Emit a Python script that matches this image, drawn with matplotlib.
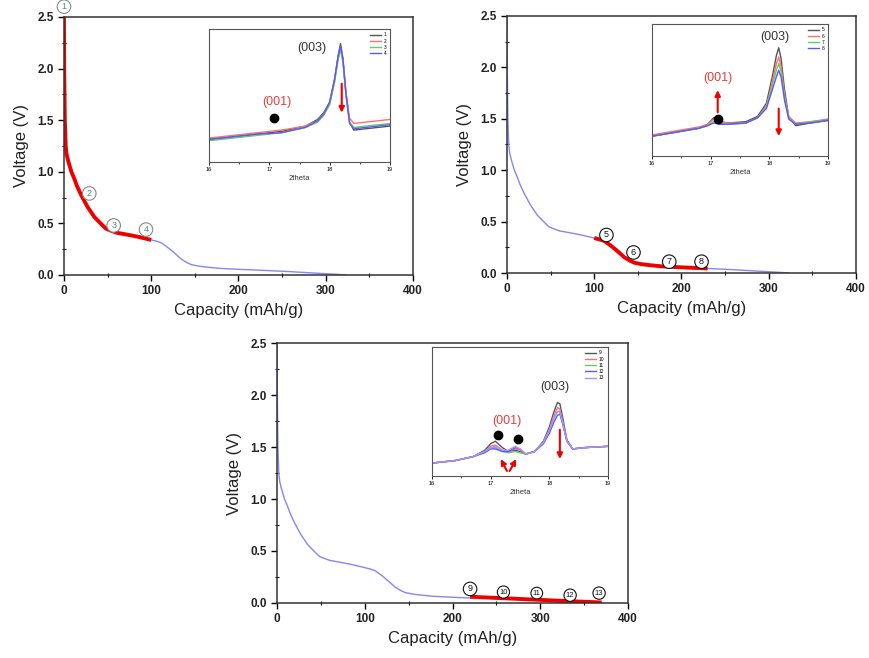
import matplotlib
matplotlib.use('Agg')
from matplotlib import pyplot as plt
from matplotlib.ticker import MultipleLocator
import numpy as np

plt.rcParams['font.family'] = ['Liberation Sans', 'DejaVu Sans']

# discharge curve (capacity in mAh/g, voltage in V)
cap = [0, 0.3, 1, 2, 3, 5, 8.5, 12, 15, 20, 27, 35, 42, 48, 52, 60, 73, 85, 100,
       107, 112, 120, 127, 135, 141, 146, 155, 165, 177, 200, 220, 230, 260, 292, 310, 323]
volt = [2.5, 2.0, 1.5, 1.25, 1.17, 1.1, 1.0, 0.93, 0.86, 0.77, 0.66, 0.56, 0.5, 0.45, 0.435,
        0.41, 0.39, 0.37, 0.34, 0.325, 0.31, 0.26, 0.21, 0.15, 0.12, 0.10, 0.085, 0.075,
        0.065, 0.055, 0.048, 0.044, 0.032, 0.016, 0.008, 0.0]

# red segment of the last panel
cap_red3 = [220, 260, 300, 340, 370]
volt_red3 = [0.06, 0.045, 0.03, 0.015, 0.005]

# circled labels: (label, capacity, voltage)
marks1 = [('1', 0, 2.6), ('2', 29, 0.79), ('3', 57, 0.48), ('4', 94, 0.44)]
marks2 = [('5', 114, 0.37), ('6', 145, 0.2), ('7', 186, 0.11), ('8', 223, 0.11)]
marks3 = [('9', 220, 0.135), ('10', 258, 0.105), ('11', 296, 0.095), ('12', 334, 0.075), ('13', 367, 0.095)]

# XRD insets (2theta, intensity a.u.)
tt1 = [16.0, 16.4, 16.8, 17.2, 17.6, 17.8, 17.9, 18.0, 18.08, 18.14, 18.18, 18.22, 18.27, 18.33, 18.4, 18.6, 18.8, 19.0]
xrd1 = {
    '1': [0.17, 0.19, 0.21, 0.23, 0.27, 0.32, 0.37, 0.45, 0.62, 0.80, 0.89, 0.78, 0.52, 0.30, 0.24, 0.25, 0.26, 0.27],
    '2': [0.18, 0.20, 0.22, 0.24, 0.27, 0.31, 0.36, 0.44, 0.60, 0.78, 0.86, 0.76, 0.52, 0.33, 0.29, 0.30, 0.31, 0.32],
    '3': [0.16, 0.18, 0.20, 0.22, 0.26, 0.30, 0.35, 0.43, 0.60, 0.77, 0.85, 0.75, 0.50, 0.30, 0.26, 0.27, 0.28, 0.29],
    '4': [0.17, 0.19, 0.21, 0.22, 0.26, 0.31, 0.36, 0.45, 0.62, 0.79, 0.87, 0.77, 0.51, 0.29, 0.25, 0.26, 0.27, 0.28],
}
tt2 = [16.0, 16.4, 16.8, 16.95, 17.05, 17.15, 17.3, 17.6, 17.8, 17.95, 18.05, 18.12, 18.16, 18.2, 18.26, 18.33, 18.45, 18.7, 19.0]
xrd2 = {
    '5': [0.15, 0.18, 0.21, 0.24, 0.29, 0.26, 0.25, 0.26, 0.30, 0.40, 0.60, 0.76, 0.82, 0.74, 0.50, 0.30, 0.23, 0.25, 0.27],
    '6': [0.16, 0.19, 0.22, 0.24, 0.28, 0.26, 0.25, 0.25, 0.29, 0.38, 0.56, 0.70, 0.75, 0.68, 0.46, 0.30, 0.25, 0.26, 0.28],
    '7': [0.15, 0.18, 0.21, 0.23, 0.26, 0.25, 0.24, 0.25, 0.29, 0.37, 0.53, 0.65, 0.70, 0.64, 0.44, 0.29, 0.24, 0.26, 0.27],
    '8': [0.15, 0.18, 0.21, 0.23, 0.25, 0.24, 0.24, 0.25, 0.29, 0.36, 0.50, 0.60, 0.65, 0.60, 0.42, 0.28, 0.24, 0.25, 0.27],
}
tt3 = [16.0, 16.4, 16.7, 16.9, 17.0, 17.08, 17.2, 17.3, 17.42, 17.5, 17.6, 17.75, 17.9, 18.0, 18.08, 18.14, 18.18, 18.23, 18.3, 18.4, 18.6, 19.0]
xrd3 = {
    '9':  [0.10, 0.12, 0.15, 0.20, 0.25, 0.27, 0.22, 0.19, 0.20, 0.19, 0.17, 0.19, 0.27, 0.38, 0.50, 0.57, 0.56, 0.45, 0.28, 0.21, 0.22, 0.23],
    '10': [0.10, 0.12, 0.15, 0.19, 0.23, 0.24, 0.20, 0.19, 0.21, 0.20, 0.17, 0.19, 0.26, 0.36, 0.47, 0.53, 0.52, 0.42, 0.27, 0.21, 0.22, 0.23],
    '11': [0.10, 0.12, 0.15, 0.19, 0.22, 0.22, 0.19, 0.18, 0.19, 0.18, 0.17, 0.19, 0.26, 0.35, 0.45, 0.50, 0.50, 0.41, 0.27, 0.21, 0.22, 0.23],
    '12': [0.10, 0.12, 0.15, 0.18, 0.21, 0.21, 0.19, 0.19, 0.22, 0.21, 0.17, 0.19, 0.25, 0.33, 0.42, 0.47, 0.48, 0.40, 0.27, 0.21, 0.22, 0.23],
    '13': [0.10, 0.12, 0.15, 0.19, 0.22, 0.23, 0.20, 0.20, 0.23, 0.21, 0.17, 0.19, 0.26, 0.35, 0.45, 0.50, 0.50, 0.41, 0.27, 0.21, 0.22, 0.23],
}
xrd_colors = ['#555555', '#ff6f6f', '#66cc66', '#5a5aff', '#b090ff']

BLUE = '#8585f5'
RED = '#ee0000'

cap = np.array(cap)
volt = np.array(volt)


def main_axes(rect, mark_list, mark_ec, mark_tc):
    ax = fig.add_axes(rect)
    ax.set_xlim(0, 400)
    ax.set_ylim(0, 2.5)
    ax.xaxis.set_major_locator(MultipleLocator(100))
    ax.xaxis.set_minor_locator(MultipleLocator(50))
    ax.yaxis.set_major_locator(MultipleLocator(0.5))
    ax.yaxis.set_minor_locator(MultipleLocator(0.25))
    ax.yaxis.set_major_formatter(matplotlib.ticker.FormatStrFormatter('%.1f'))
    ax.tick_params(which='major', direction='out', length=4, width=1, labelsize=8.5)
    ax.tick_params(which='minor', direction='inout', length=3, width=0.8)
    for lab in ax.get_xticklabels() + ax.get_yticklabels():
        lab.set_fontweight('bold')
        lab.set_color('#222222')
    for sp in ax.spines.values():
        sp.set_linewidth(1.1)
        sp.set_color('#333333')
    ax.set_xlabel('Capacity (mAh/g)', fontsize=12, color='#222222', labelpad=4)
    ax.set_ylabel('Voltage (V)', fontsize=12, color='#222222', labelpad=6)
    for txt, x, y in mark_list:
        ax.text(x, y, txt, fontsize=5.5 if len(txt) > 1 else 6.5, color=mark_tc,
                ha='center', va='center', clip_on=False, zorder=6,
                bbox=dict(boxstyle='circle,pad=0.25', fc='white', ec=mark_ec, lw=0.8))
    return ax


def inset(rect, tt, series, labels_pos):
    ax = fig.add_axes(rect)
    for i, (name, vals) in enumerate(series.items()):
        ax.plot(tt, vals, color=xrd_colors[i], lw=1.0, label=name)
    ax.set_xlim(16, 19)
    ax.set_ylim(0, 1)
    ax.set_yticks([])
    ax.set_xticks([16, 17, 18, 19])
    ax.set_xticklabels(['16', '17', '18', '19'])
    ax.xaxis.set_minor_locator(MultipleLocator(0.5))
    ax.tick_params(which='major', direction='out', length=2, width=0.6, labelsize=4, pad=1.5)
    ax.tick_params(which='minor', direction='out', length=1.5, width=0.5)
    for sp in ax.spines.values():
        sp.set_linewidth(0.8)
        sp.set_color('#555555')
    ax.set_xlabel('2theta', fontsize=5.5, labelpad=2, color='#333333')
    ax.legend(loc='upper right', fontsize=3.5, frameon=False, handlelength=2.2,
              handletextpad=0.6, labelspacing=0.25, borderaxespad=0.3)
    return ax


fig = plt.figure(figsize=(8.69, 6.58), dpi=100)

# panel 1
ax1 = main_axes([0.0736, 0.5821, 0.4016, 0.3921], marks1, '#888888', '#3a8f86')
ax1.plot(cap, volt, color=BLUE, lw=1.0)
m = cap <= 100
ax1.plot(cap[m], volt[m], color=RED, lw=2.8, solid_capstyle='butt')

# panel 2
ax2 = main_axes([0.5834, 0.5851, 0.4016, 0.3906], marks2, '#111111', '#111111')
ax2.plot(cap, volt, color=BLUE, lw=1.0)
m = (cap >= 100) & (cap <= 230)
ax2.plot(cap[m], volt[m], color=RED, lw=2.8, solid_capstyle='butt')

# panel 3
ax3 = main_axes([0.3188, 0.0836, 0.4039, 0.3951], marks3, '#111111', '#111111')
m = cap <= 220
ax3.plot(cap[m], volt[m], color=BLUE, lw=1.0)
ax3.plot(cap_red3, volt_red3, color=RED, lw=2.8, solid_capstyle='butt')

# insets
in1 = inset([0.2405, 0.7538, 0.2083, 0.2021], tt1, xrd1, None)
in1.text(17.7, 0.86, '(003)', fontsize=9, color='#333333', ha='center', va='center')
in1.text(17.13, 0.45, '(001)', fontsize=9, color='#e04040', ha='center', va='center')
in1.plot([17.08], [0.33], 'o', color='black', ms=6)
in1.annotate('', xy=(18.2, 0.35), xytext=(18.2, 0.61),
             arrowprops=dict(arrowstyle='-|>', color=RED, lw=1.5, mutation_scale=8))

in2 = inset([0.7503, 0.7629, 0.2025, 0.2006], tt2, xrd2, None)
in2.text(18.1, 0.90, '(003)', fontsize=9, color='#333333', ha='center', va='center')
in2.text(17.12, 0.59, '(001)', fontsize=9, color='#e04040', ha='center', va='center')
in2.plot([17.12], [0.28], 'o', color='black', ms=6, zorder=5)
in2.annotate('', xy=(17.12, 0.52), xytext=(17.12, 0.31),
             arrowprops=dict(arrowstyle='-|>', color=RED, lw=1.5, mutation_scale=8))
in2.annotate('', xy=(18.16, 0.13), xytext=(18.16, 0.38),
             arrowprops=dict(arrowstyle='-|>', color=RED, lw=1.5, mutation_scale=8))

in3 = inset([0.4971, 0.2766, 0.2025, 0.1960], tt3, xrd3, None)
in3.text(18.1, 0.69, '(003)', fontsize=9, color='#333333', ha='center', va='center')
in3.text(17.28, 0.43, '(001)', fontsize=9, color='#e04040', ha='center', va='center')
in3.plot([17.12, 17.47], [0.32, 0.29], 'o', color='black', ms=6, zorder=5)
in3.annotate('', xy=(17.15, 0.15), xytext=(17.3, 0.02),
             arrowprops=dict(arrowstyle='-|>', color=RED, lw=1.5, mutation_scale=8))
in3.annotate('', xy=(17.46, 0.15), xytext=(17.3, 0.02),
             arrowprops=dict(arrowstyle='-|>', color=RED, lw=1.5, mutation_scale=8))
in3.annotate('', xy=(18.18, 0.11), xytext=(18.18, 0.38),
             arrowprops=dict(arrowstyle='-|>', color=RED, lw=1.5, mutation_scale=8))

plt.savefig('out.png', dpi=100)
